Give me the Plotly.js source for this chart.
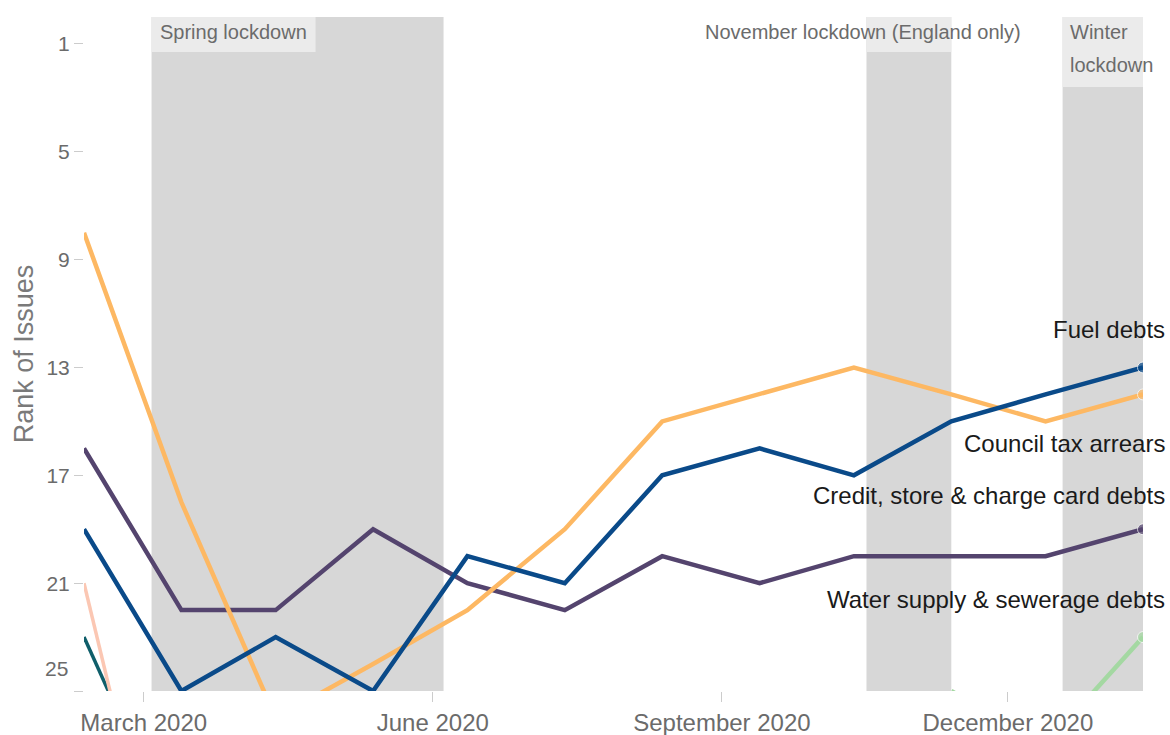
<!DOCTYPE html>
<html><head><meta charset="utf-8">
<script src="https://cdn.plot.ly/plotly-3.0.1.min.js"></script>
<style>html,body{margin:0;padding:0;background:#fff;overflow:hidden}#chart{width:1170px;height:735px}</style>
</head><body><div id="chart"></div>
<script>
// ---- data ----
const dates = ['2020-02-11','2020-03-13','2020-04-12','2020-05-13','2020-06-12','2020-07-13','2020-08-13','2020-09-13','2020-10-13','2020-11-13','2020-12-13','2021-01-13'];
const fuelDebts        = [19, 25, 23, 25, 20, 21, 17, 16, 17, 15, 14, 13];
const councilTaxArrears = [8, 18, 26, 24, 22, 19, 15, 14, 13, 14, 15, 14];
const creditCardDebts  = [16, 22, 22, 19, 21, 22, 20, 21, 20, 20, 20, 19];
const waterDebts       = [null, null, null, null, null, null, null, null, null, 25, 27, 23];
const otherIssueA      = [21, 36, null, null, null, null, null, null, null, null, null, null];
const otherIssueB      = [23, 31, null, null, null, null, null, null, null, null, null, null];

const seriesNames = ['Other issue B', 'Other issue A', 'Water supply & sewerage debts', 'Credit, store & charge card debts', 'Council tax arrears', 'Fuel debts'];

const lockdownNames = [['Spring lockdown'], ['November lockdown (England only)'], ['Winter', 'lockdown']];
const lockdownStart = ['2020-03-03 12:00', '2020-10-17', '2020-12-18 10:00'];
const lockdownEnd   = ['2020-06-04 10:00', '2020-11-13', '2021-01-13'];

const xTickVals = ['2020-03-01', '2020-06-01', '2020-09-01', '2020-12-01'];
const xTickText = ['March 2020', 'June 2020', 'September 2020', 'December 2020'];
const yTickVals = [1, 5, 9, 13, 17, 21, 25];

// ---- styles ----
const FONT = '"Liberation Sans", Arial, Helvetica, sans-serif';
const seriesData = [otherIssueB, otherIssueA, waterDebts, creditCardDebts, councilTaxArrears, fuelDebts];
const seriesColors = ['#0f5e6a', '#fbc7b3', '#a4d8a2', '#54446e', '#fdb863', '#0a4a89'];
const endMarker = [false, false, true, true, true, true];
const last = dates.length - 1;

const traces = seriesData.map((vals, k) => ({
  type: 'scatter',
  mode: 'lines+markers',
  name: seriesNames[k],
  x: dates,
  y: vals,
  line: {color: seriesColors[k], width: k < 2 ? 3.5 : 4.5},
  marker: {color: seriesColors[k], size: vals.map((v, i) => (endMarker[k] && i === last) ? 11 : 0)},
  connectgaps: false,
  hoverinfo: 'skip'
}));

const shapes = [];
const annotations = [];
const boxWidthPx = [164, null, null];
const boxHeightPx = [35, 35, 70];
const labelAnchor = ['left', 'center', 'left'];
const labelShift = [6, -3, 5];
const lineStep = 33;
lockdownNames.forEach((lines, i) => {
  shapes.push({type: 'rect', layer: 'below', xref: 'x', yref: 'paper',
    x0: lockdownStart[i], x1: lockdownEnd[i], y0: 0, y1: 1,
    fillcolor: '#d7d7d7', line: {width: 0}});
  if (boxWidthPx[i]) {
    shapes.push({type: 'rect', layer: 'below', xref: 'x', yref: 'paper',
      xsizemode: 'pixel', xanchor: lockdownStart[i], x0: 0, x1: boxWidthPx[i],
      ysizemode: 'pixel', yanchor: 1, y0: 0, y1: -boxHeightPx[i],
      fillcolor: '#ebebeb', line: {width: 0}});
  } else {
    shapes.push({type: 'rect', layer: 'below', xref: 'x', yref: 'paper',
      x0: lockdownStart[i], x1: lockdownEnd[i],
      ysizemode: 'pixel', yanchor: 1, y0: 0, y1: -boxHeightPx[i],
      fillcolor: '#ebebeb', line: {width: 0}});
  }
  lines.forEach((txt, j) => {
    annotations.push({xref: 'x', yref: 'paper', x: lockdownStart[i], y: 1,
      xanchor: labelAnchor[i], yanchor: 'middle', xshift: labelShift[i], yshift: -15 - j * lineStep,
      align: 'left', showarrow: false, text: txt,
      font: {family: FONT, size: 20, color: '#6b6b6b'}});
  });
});

// end labels tied to last points
const endLabels = [
  {k: 5, shift: 38}, {k: 4, shift: -49}, {k: 3, shift: 34}, {k: 2, shift: 38}
];
endLabels.forEach(l => {
  annotations.push({xref: 'paper', yref: 'y', x: 1, y: seriesData[l.k][last],
    xanchor: 'right', yanchor: 'middle', xshift: 24, yshift: l.shift, showarrow: false,
    text: seriesNames[l.k], font: {family: FONT, size: 24, color: '#1a1a1a'}});
});

// displaced bottom tick label
annotations.push({xref: 'paper', yref: 'y', x: 0, y: yTickVals[yTickVals.length - 1],
  xanchor: 'right', yanchor: 'middle', xshift: -14, yshift: 23, showarrow: false,
  text: String(yTickVals[yTickVals.length - 1]), font: {family: FONT, size: 21, color: '#6b6b6b'}});

const layout = {
  width: 1170, height: 735,
  margin: {l: 84, r: 27, t: 17, b: 44, pad: 0},
  paper_bgcolor: '#ffffff', plot_bgcolor: '#ffffff',
  showlegend: false,
  font: {family: FONT, color: '#6b6b6b'},
  xaxis: {type: 'date', range: [dates[0], dates[last]],
    tickmode: 'array', tickvals: xTickVals, ticktext: xTickText,
    ticks: 'outside', ticklen: 10, tickwidth: 1, tickcolor: '#cccccc',
    showgrid: false, zeroline: false, showline: false,
    tickfont: {family: FONT, size: 24, color: '#6b6b6b'}},
  yaxis: {range: [25, 0], tickmode: 'array', tickvals: yTickVals,
    ticktext: yTickVals.map((v, i) => i === yTickVals.length - 1 ? '' : String(v)),
    ticks: 'outside', ticklen: 9, tickwidth: 1, tickcolor: '#cccccc',
    showgrid: false, zeroline: false, showline: false,
    tickfont: {family: FONT, size: 21, color: '#6b6b6b'},
    title: {text: 'Rank of Issues', standoff: 4, font: {family: FONT, size: 27, color: '#7a7a7a'}}},
  shapes: shapes,
  annotations: annotations
};

Plotly.newPlot('chart', traces, layout, {displayModeBar: false, staticPlot: true});
</script></body></html>
